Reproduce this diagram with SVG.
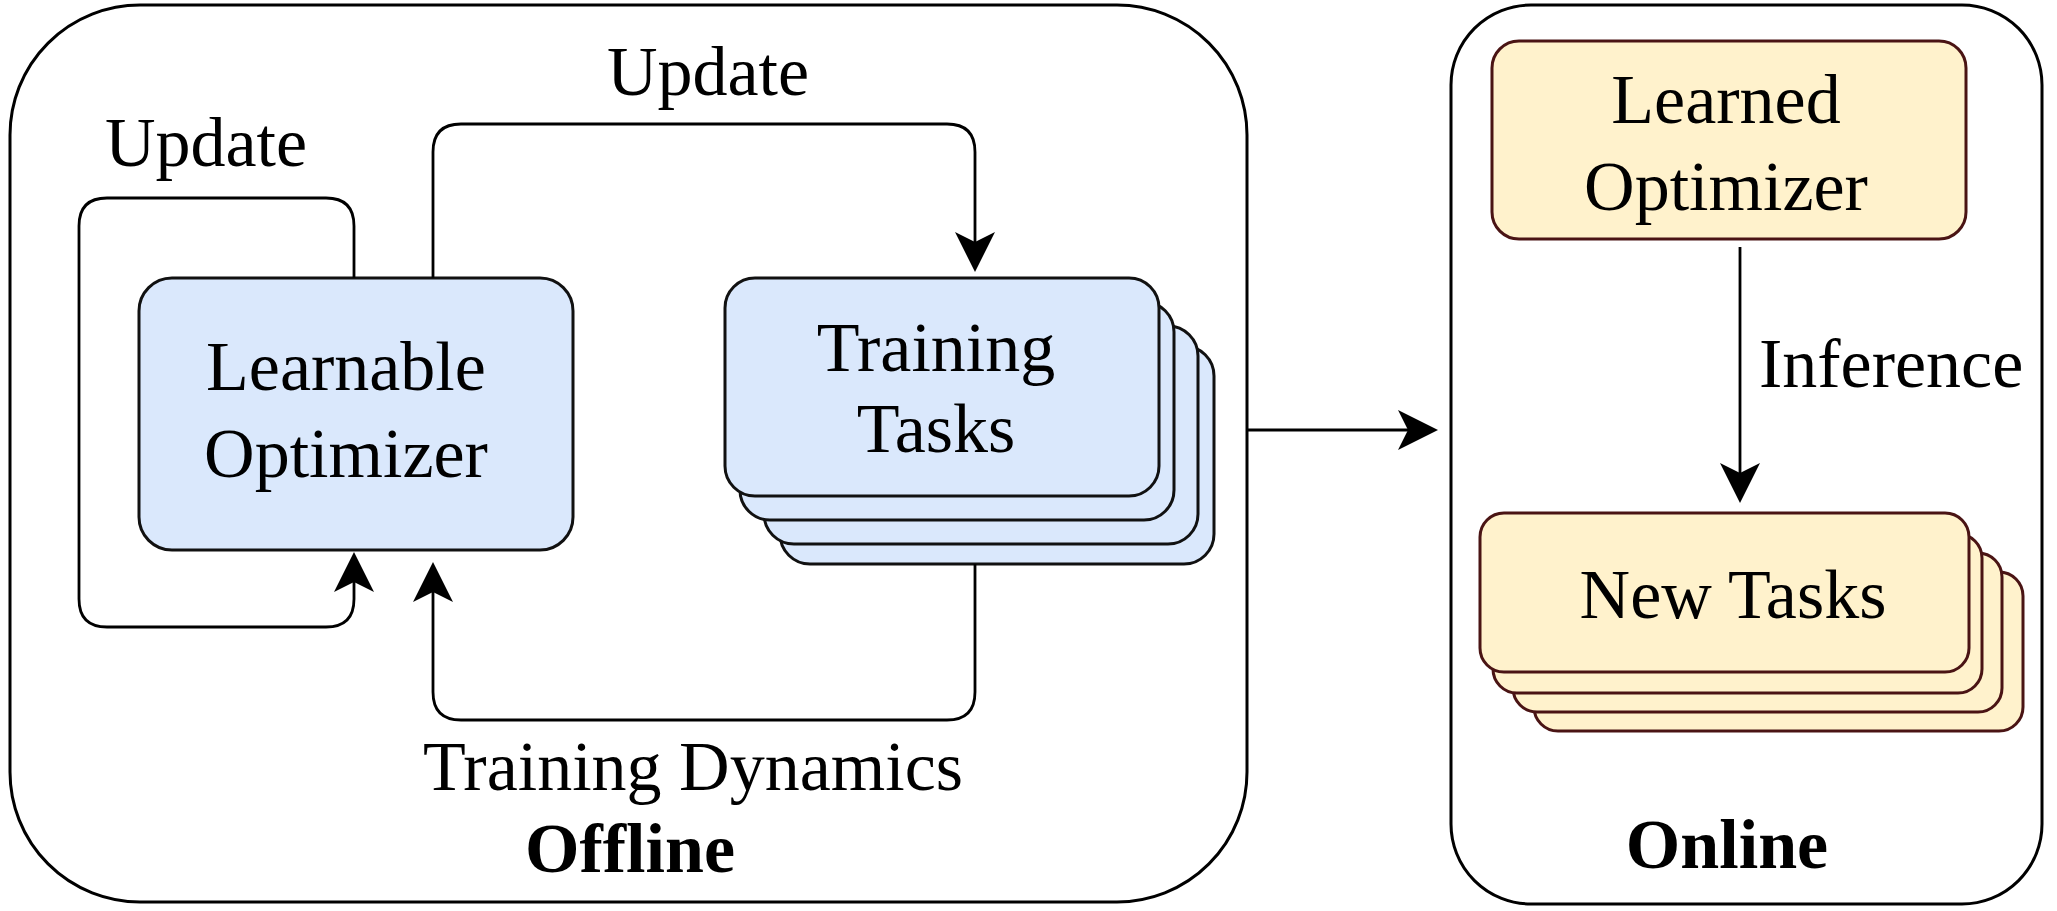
<svg xmlns="http://www.w3.org/2000/svg" width="2057" height="911" viewBox="0 0 2057 911" font-family="'Liberation Serif', 'Times New Roman', Tinos, 'DejaVu Serif', serif">
<defs>
<style>
text{font-family:'Liberation Serif','Times New Roman',Tinos,'DejaVu Serif',serif;font-size:70px;fill:#000}
.c{text-anchor:middle}
.b{font-weight:bold}
.cont{fill:#fff;stroke:#000;stroke-width:3}
.blue{fill:#dae8fc;stroke:#111;stroke-width:3}
.yel{fill:#fff2cc;stroke:#4a1414;stroke-width:3}
.edge{fill:none;stroke:#000;stroke-width:2.8}
</style>
<marker id="arr" markerUnits="userSpaceOnUse" markerWidth="42" markerHeight="42" viewBox="0 0 42 42" refX="11" refY="21" orient="auto">
<path d="M1,1 L41,21 L1,41 L11,21 Z" fill="#000"/>
</marker>
</defs>
<rect width="2057" height="911" fill="#fff"/>
<g id="offline">
<rect class="cont" x="10" y="5" width="1237" height="897" rx="130" ry="130"/>
<text class="c b" x="630" y="872" font-family="'Liberation Serif', serif">Offline</text>
</g>
<g id="online">
<rect class="cont" x="1451" y="5" width="591" height="899" rx="80" ry="80"/>
<text class="c b" x="1727" y="868" font-family="'Liberation Serif', serif">Online</text>
</g>
<g id="learnable-optimizer">
<rect class="blue" x="139" y="278" width="434" height="272" rx="33" ry="33"/>
<text class="c" x="346" y="390" font-family="'Liberation Serif', serif">Learnable</text>
<text class="c" x="346" y="477" font-family="'Liberation Serif', serif">Optimizer</text>
</g>
<g id="training-tasks">
<rect class="blue" x="780" y="346" width="434" height="218" rx="30" ry="30"/>
<rect class="blue" x="764" y="326" width="434" height="218" rx="30" ry="30"/>
<rect class="blue" x="740" y="302" width="434" height="218" rx="30" ry="30"/>
<rect class="blue" x="725" y="278" width="434" height="218" rx="30" ry="30"/>
<text class="c" x="936" y="371" font-family="'Liberation Serif', serif">Training</text>
<text class="c" x="936" y="452" font-family="'Liberation Serif', serif">Tasks</text>
</g>
<g id="learned-optimizer">
<rect class="yel" x="1492" y="41" width="474" height="198" rx="27" ry="27"/>
<text class="c" x="1726" y="123" font-family="'Liberation Serif', serif">Learned</text>
<text class="c" x="1726" y="210" font-family="'Liberation Serif', serif">Optimizer</text>
</g>
<g id="new-tasks">
<rect class="yel" x="1534" y="572" width="489" height="159" rx="24" ry="24"/>
<rect class="yel" x="1513" y="553" width="489" height="159" rx="24" ry="24"/>
<rect class="yel" x="1493" y="534" width="489" height="159" rx="24" ry="24"/>
<rect class="yel" x="1480" y="513" width="489" height="159" rx="24" ry="24"/>
<text class="c" x="1733" y="618" font-family="'Liberation Serif', serif">New Tasks</text>
</g>
<g id="connectors">
<path class="edge" marker-end="url(#arr)" d="M354,278 V226 Q354,198 326,198 H107 Q79,198 79,226 V599 Q79,627 107,627 H326 Q354,627 354,599 V582"/>
<path class="edge" marker-end="url(#arr)" d="M433,278 V152 Q433,124 461,124 H947 Q975,124 975,152 V242"/>
<path class="edge" marker-end="url(#arr)" d="M975,564 V692 Q975,720 947,720 H461 Q433,720 433,692 V592"/>
<path class="edge" marker-end="url(#arr)" d="M1247,430 H1408"/>
<path class="edge" marker-end="url(#arr)" d="M1740,247 V473"/>
<text class="c" x="206" y="166" font-family="'Liberation Serif', serif">Update</text>
<text class="c" x="708" y="95" font-family="'Liberation Serif', serif">Update</text>
<text class="c" x="693" y="790" font-family="'Liberation Serif', serif">Training Dynamics</text>
<text x="1759" y="387" font-family="'Liberation Serif', serif">Inference</text>
</g>
</svg>
